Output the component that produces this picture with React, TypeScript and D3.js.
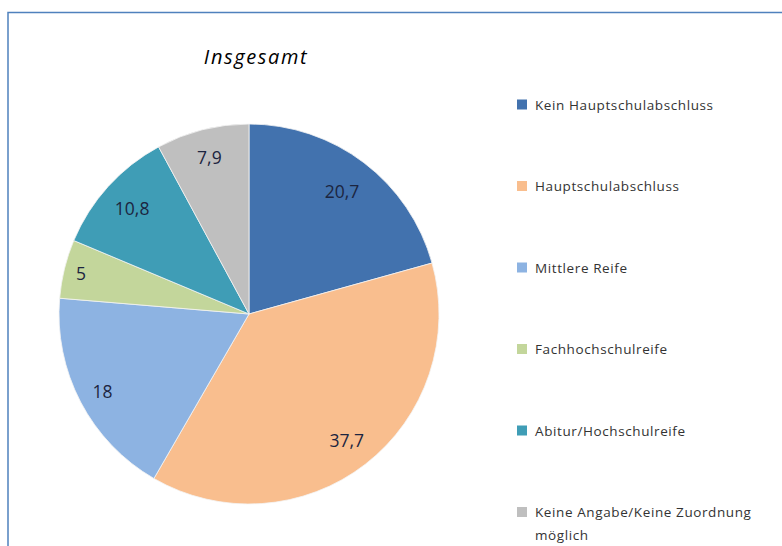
import React from "react";
import * as d3 from "d3";

const categories = [
  "Kein Hauptschulabschluss",
  "Hauptschulabschluss",
  "Mittlere Reife",
  "Fachhochschulreife",
  "Abitur/Hochschulreife",
  "Keine Angabe/Keine Zuordnung möglich",
];
const values = [20.7, 37.7, 18, 5, 10.8, 7.9];
const labels = ["20,7", "37,7", "18", "5", "10,8", "7,9"];
const colors = ["#4272AE", "#F9BE8E", "#8DB3E2", "#C3D69B", "#3F9DB6", "#BFBFBF"];
const legendLines = [
  ["Kein Hauptschulabschluss"],
  ["Hauptschulabschluss"],
  ["Mittlere Reife"],
  ["Fachhochschulreife"],
  ["Abitur/Hochschulreife"],
  ["Keine Angabe/Keine Zuordnung", "möglich"],
];
// best-fit label distance from centre, as a fraction of the radius
const labelRadius = [0.81, 0.84, 0.87, 0.91, 0.83, 0.85];

export default function App() {
  const W = 782, H = 546;
  const cx = 249, cy = 314, R = 190;
  const pie = d3.pie<number>().sort(null).value((d) => d)(values);
  const arc = d3.arc<d3.PieArcDatum<number>>().innerRadius(0).outerRadius(R);
  const legendY = d3.scalePoint<number>().domain(d3.range(categories.length)).range([104.5, 512]);
  const font = "'Open Sans', 'DejaVu Sans', sans-serif";
  return (
    <svg width={W} height={H} style={{ position: "absolute", left: 0, top: 0 }}>
      <rect x={0} y={0} width={W} height={H} fill="#fff" />
      <rect x={8} y={12.5} width={W + 20} height={H + 20} fill="#fff" stroke="#4F81BD" strokeWidth={1.5} />
      <text x={256} y={64} textAnchor="middle" fontFamily={font} fontStyle="italic" fontSize={20} letterSpacing={1.6} fill="#000">
        Insgesamt
      </text>
      <g transform={`translate(${cx},${cy})`}>
        {pie.map((p, i) => (
          <path key={i} d={arc(p) || ""} fill={colors[i]} stroke="#f4f4f4" strokeWidth={0.8} />
        ))}
        {pie.map((p, i) => {
          const r = R * labelRadius[i];
          const [x, y] = d3.arc<d3.PieArcDatum<number>>().innerRadius(r).outerRadius(r).centroid(p);
          return (
            <text key={i} x={x} y={y} textAnchor="middle" dominantBaseline="central" fontFamily={font} fontSize={17.5} fill="#1C2540">
              {labels[i]}
            </text>
          );
        })}
      </g>
      <g>
        {categories.map((c, i) => (
          <g key={c} transform={`translate(517,${legendY(i)})`}>
            <rect x={0} y={-5} width={10} height={10} fill={colors[i]} />
            {legendLines[i].map((ln, j) => (
              <text key={j} x={18} y={j * 23} dominantBaseline="central" fontFamily={font} fontSize={13.5} letterSpacing={0.6} fill="#333">
                {ln}
              </text>
            ))}
          </g>
        ))}
      </g>
    </svg>
  );
}
